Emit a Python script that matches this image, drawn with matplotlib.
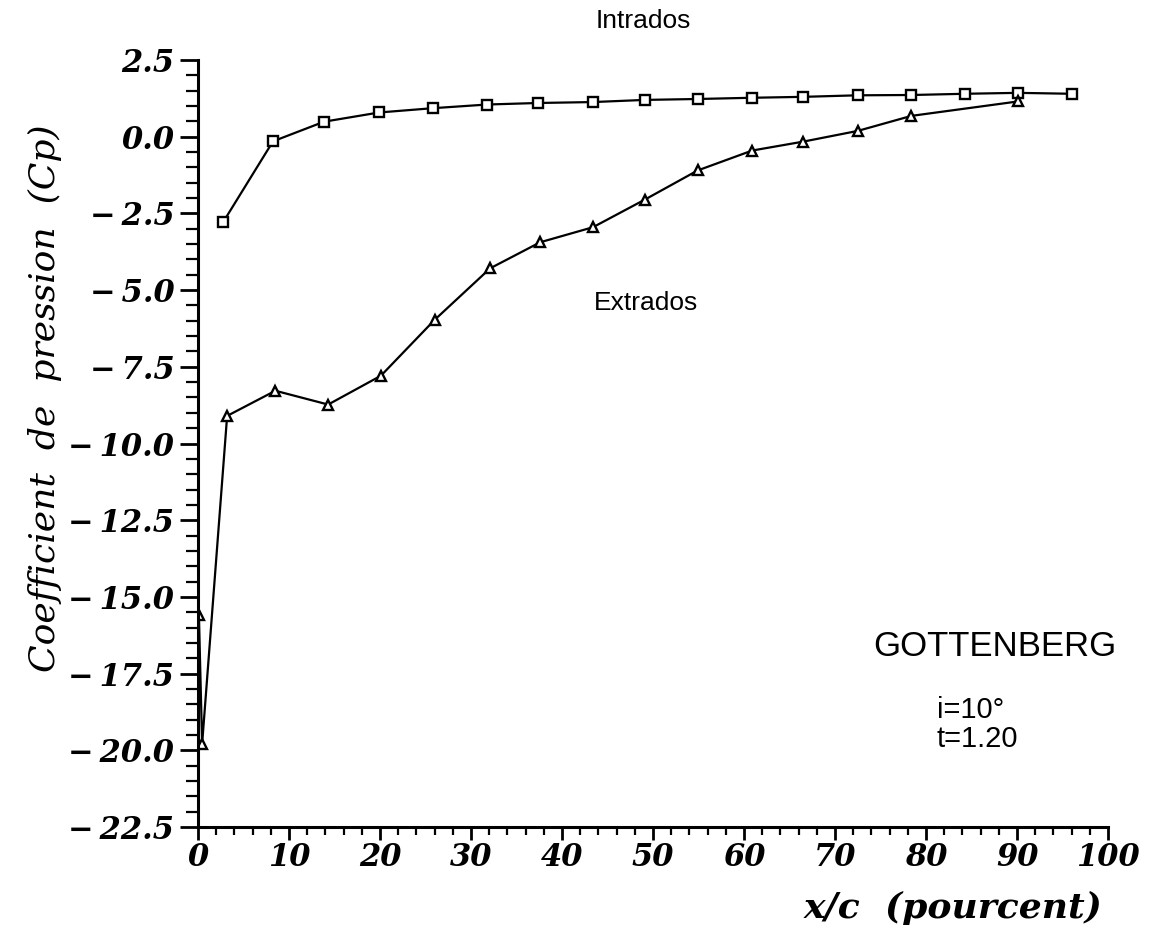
import matplotlib
matplotlib.use("Agg")
import matplotlib.pyplot as plt
from matplotlib.font_manager import FontProperties
from matplotlib.ticker import MultipleLocator, FuncFormatter

# pressure coefficient along the chord, x/c in percent
x_intrados = [2.75, 8.24, 13.85, 19.9, 25.8, 31.8, 37.4, 43.4, 49.1, 54.9,
              60.9, 66.5, 72.5, 78.4, 84.3, 90.1, 96.0]
cp_intrados = [-2.79, -0.15, 0.49, 0.79, 0.93, 1.05, 1.10, 1.13, 1.20, 1.23,
               1.27, 1.30, 1.35, 1.36, 1.40, 1.43, 1.40]

x_extrados = [0.1, 0.45, 3.2, 8.5, 14.3, 20.1, 26.0, 32.1, 37.6, 43.4,
              49.1, 54.9, 60.9, 66.5, 72.5, 78.4, 90.1]
cp_extrados = [-15.6, -19.8, -9.1, -8.28, -8.73, -7.79, -5.97, -4.29, -3.44, -2.95,
               -2.05, -1.10, -0.45, -0.16, 0.19, 0.68, 1.15]

num_font = FontProperties(family="DejaVu Serif", weight="bold", style="italic", size=22)
sans = "Liberation Sans"


def cp_label(v, pos):
    # wide minus with a small gap, as on the old plotter output
    if v < 0:
        return "\u2212\u2009%.1f" % abs(v)
    return "%.1f" % v


fig = plt.figure(figsize=(11.6, 9.35), dpi=100)
ax = fig.add_axes([0.1707, 0.1155, 0.7845, 0.8203])

ax.plot(x_intrados, cp_intrados, color="black", lw=1.6, marker="s", ms=7.5,
        mfc="white", mec="black", mew=1.7)
ax.plot(x_extrados, cp_extrados, color="black", lw=1.6, marker="^", ms=7.5,
        mfc="white", mec="black", mew=1.7)

ax.set_xlim(0, 100)
ax.set_ylim(-22.5, 2.5)
for side in ("top", "right"):
    ax.spines[side].set_visible(False)
for side in ("left", "bottom"):
    ax.spines[side].set_linewidth(2.2)

ax.xaxis.set_major_locator(MultipleLocator(10))
ax.xaxis.set_minor_locator(MultipleLocator(2))
ax.yaxis.set_major_locator(MultipleLocator(2.5))
ax.yaxis.set_minor_locator(MultipleLocator(0.5))
ax.yaxis.set_major_formatter(FuncFormatter(cp_label))
ax.tick_params(axis="y", which="major", direction="out", length=13, width=2, pad=4)
ax.tick_params(axis="y", which="minor", direction="out", length=9, width=1.6)
ax.tick_params(axis="x", which="major", direction="out", length=9, width=2, pad=1.5)
ax.tick_params(axis="x", which="minor", direction="out", length=6, width=1.6)
for lab in ax.get_xticklabels() + ax.get_yticklabels():
    lab.set_fontproperties(num_font)

fig.text(45 / 1160, 1 - 398 / 935, "Coefficient  de  pression  (Cp)",
         rotation=90, ha="center", va="center",
         family="DejaVu Serif", style="italic", size=26)
fig.text(1103 / 1160, 1 - 908 / 935, "x/c  (pourcent)", ha="right", va="center",
         family="DejaVu Serif", style="italic", weight="bold", size=26)

fig.text(643 / 1160, 1 - 21 / 935, "Intrados", ha="center", va="center",
         family=sans, size=19)
ax.text(49.2, -5.42, "Extrados", ha="center", va="center", family=sans, size=19)
ax.text(87.6, -16.6, "GOTTENBERG", ha="center", va="center", family=sans, size=25)
ax.text(81.2, -18.67, "i=10°", ha="left", va="center", family=sans, size=21)
ax.text(81.2, -19.64, "t=1.20", ha="left", va="center", family=sans, size=21)

fig.savefig("out.png", dpi=100)
